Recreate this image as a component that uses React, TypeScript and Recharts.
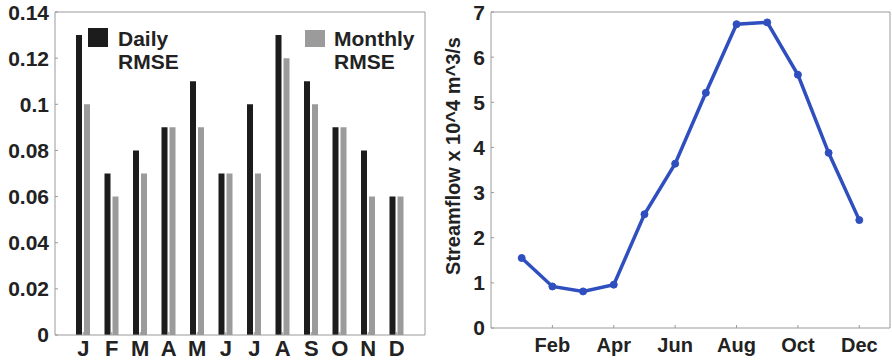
import React from "react"
import { Bar, BarChart, Line, LineChart, XAxis, YAxis } from "recharts"

const months = ["J", "F", "M", "A", "M", "J", "J", "A", "S", "O", "N", "D"]
const dailyRmse = [0.13, 0.07, 0.08, 0.09, 0.11, 0.07, 0.1, 0.13, 0.11, 0.09, 0.08, 0.06]
const monthlyRmse = [0.1, 0.06, 0.07, 0.09, 0.09, 0.07, 0.07, 0.12, 0.1, 0.09, 0.06, 0.06]
const rmseTicks = [0, 0.02, 0.04, 0.06, 0.08, 0.1, 0.12, 0.14]

const monthNames = ["Jan", "Feb", "Mar", "Apr", "May", "Jun", "Jul", "Aug", "Sep", "Oct", "Nov", "Dec"]
const streamflow = [1.55, 0.92, 0.81, 0.96, 2.52, 3.64, 5.21, 6.73, 6.77, 5.61, 3.88, 2.39]
const monthTicks = [2, 4, 6, 8, 10, 12]
const flowTicks = [0, 1, 2, 3, 4, 5, 6, 7]

const rmseData = months.map((m, i) => ({ m: m + i, label: m, daily: dailyRmse[i], monthly: monthlyRmse[i] }))
const flowData = streamflow.map((v, i) => ({ x: i + 1, flow: v }))

const FONT = "'Liberation Sans', Arial, sans-serif"
const AXIS = "#9a9a9a"
const TEXT = "#222"
const tickStyle = { fill: TEXT, fontSize: 21, fontWeight: "bold", fontFamily: FONT }

function RmseChart() {
  return (
    <div style={{ position: "absolute", left: 0, top: 0, width: 440, height: 361 }}>
      <BarChart
        width={440}
        height={361}
        data={rmseData}
        margin={{ top: 11, right: 14, bottom: 0, left: 0 }}
        barSize={6}
        barGap={2}
      >
        <XAxis
          dataKey="m"
          tickFormatter={(v: string) => v.replace(/\d+/, "")}
          padding={{ left: 14, right: 14 }}
          height={26}
          tickSize={-3}
          tickMargin={8}
          stroke={AXIS}
          tick={{ ...tickStyle, fontSize: 22 }}
          interval={0}
        />
        <XAxis
          xAxisId="top"
          orientation="top"
          dataKey="m"
          padding={{ left: 14, right: 14 }}
          height={1}
          tickSize={-3}
          tick={false}
          stroke={AXIS}
          interval={0}
        />
        <YAxis
          domain={[0, 0.14]}
          ticks={rmseTicks}
          width={55}
          tickSize={-3}
          tickMargin={9}
          stroke={AXIS}
          tick={tickStyle}
        />
        <YAxis
          yAxisId="r"
          orientation="right"
          domain={[0, 0.14]}
          ticks={rmseTicks}
          width={1}
          tickSize={-3}
          tick={false}
          stroke={AXIS}
        />
        <Bar dataKey="daily" fill="#1c1c1c" isAnimationActive={false} />
        <Bar dataKey="monthly" fill="#9b9b9b" isAnimationActive={false} />
      </BarChart>
      <div style={{ position: "absolute", left: 88, top: 28, width: 20, height: 19, background: "#1c1c1c" }} />
      <div
        style={{
          position: "absolute", left: 118, top: 27, fontFamily: FONT, fontWeight: "bold",
          fontSize: 21, lineHeight: "23px", color: TEXT,
        }}
      >
        Daily<br />RMSE
      </div>
      <div style={{ position: "absolute", left: 305, top: 30, width: 20, height: 17, background: "#9b9b9b" }} />
      <div
        style={{
          position: "absolute", left: 334, top: 27, fontFamily: FONT, fontWeight: "bold",
          fontSize: 21, lineHeight: "23px", color: TEXT,
        }}
      >
        Monthly<br />RMSE
      </div>
    </div>
  )
}

function FlowChart() {
  return (
    <div style={{ position: "absolute", left: 440, top: 0, width: 452, height: 361 }}>
      <LineChart width={452} height={361} data={flowData} margin={{ top: 11, right: 1, bottom: 0, left: 0 }}>
        <XAxis
          dataKey="x"
          type="number"
          domain={[0, 13]}
          ticks={monthTicks}
          tickFormatter={(v: number) => monthNames[v - 1]}
          height={33}
          tickSize={-3}
          tickMargin={13}
          stroke={AXIS}
          tick={{ ...tickStyle, fontSize: 20 }}
          interval={0}
        />
        <XAxis
          xAxisId="top"
          orientation="top"
          dataKey="x"
          type="number"
          domain={[0, 13]}
          ticks={monthTicks}
          height={1}
          tickSize={-3}
          tick={false}
          stroke={AXIS}
        />
        <YAxis
          domain={[0, 7]}
          ticks={flowTicks}
          width={51}
          tickSize={-3}
          tickMargin={9}
          stroke={AXIS}
          tick={tickStyle}
          label={{
            content: () => (
              <text
                x={13}
                y={156}
                transform="rotate(-90 13 156)"
                textAnchor="middle"
                dominantBaseline="central"
                fill={TEXT}
                fontFamily={FONT}
                fontWeight="bold"
                fontSize={20}
              >
                Streamflow x 10^4 m^3/s
              </text>
            ),
          }}
        />
        <YAxis
          yAxisId="r"
          orientation="right"
          domain={[0, 7]}
          ticks={flowTicks}
          width={1}
          tickSize={-3}
          tick={false}
          stroke={AXIS}
        />
        <Line
          dataKey="flow"
          stroke="#2f4fbf"
          strokeWidth={3.5}
          dot={{ r: 3.5, fill: "#2f4fbf", stroke: "#2f4fbf", strokeWidth: 1 }}
          isAnimationActive={false}
        />
      </LineChart>
    </div>
  )
}

export default function App() {
  return (
    <div style={{ position: "absolute", left: 0, top: 0, width: 892, height: 361, background: "#fff" }}>
      <RmseChart />
      <FlowChart />
    </div>
  )
}
